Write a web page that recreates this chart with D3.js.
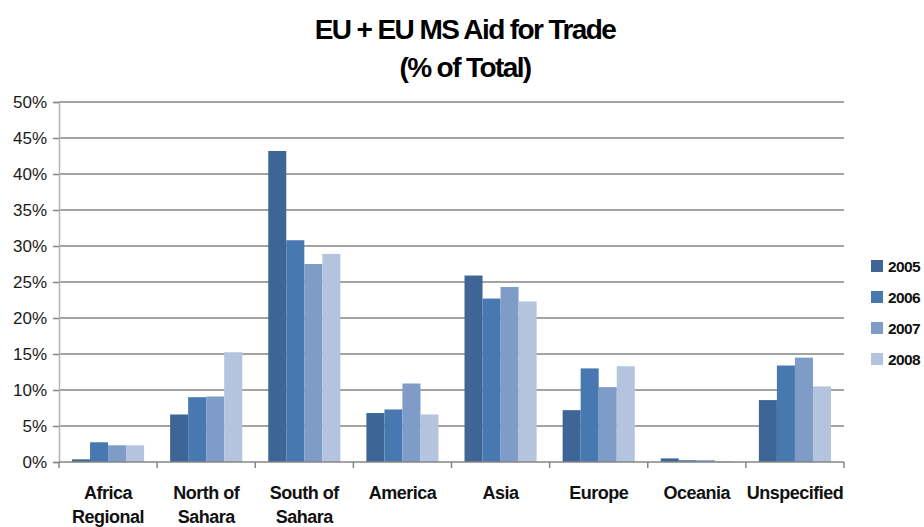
<!DOCTYPE html>
<html>
<head>
<meta charset="utf-8">
<script src="https://cdn.jsdelivr.net/npm/d3@7"></script>
<style>
body { margin: 0; background: #fff; }
text { font-family: "Liberation Sans", Arial, sans-serif; }
</style>
</head>
<body>
<script>
var width = 924, height = 527;

var categories = [["Africa", "Regional"], ["North of", "Sahara"], ["South of", "Sahara"], ["America"], ["Asia"], ["Europe"], ["Oceania"], ["Unspecified"]];
var years = ["2005", "2006", "2007", "2008"];
var v2005 = [0.37, 6.6, 43.2, 6.8, 25.9, 7.2, 0.5, 8.6];
var v2006 = [2.74, 9.0, 30.8, 7.3, 22.7, 13.0, 0.25, 13.4];
var v2007 = [2.32, 9.1, 27.5, 10.9, 24.3, 10.4, 0.25, 14.5];
var v2008 = [2.32, 15.25, 28.9, 6.6, 22.3, 13.3, 0.1, 10.5];
var yTicks = [0, 5, 10, 15, 20, 25, 30, 35, 40, 45, 50];
var colors = ["#3d6697", "#4878b0", "#7f9cc8", "#b5c4de"];

var series = [v2005, v2006, v2007, v2008];

var svg = d3.select("body")
.append("svg")
.attr("width", width)
.attr("height", height)
.attr("id", "svg");

var plotLeft = 59, plotRight = 844, plotTop = 102, plotBottom = 462;

var x = d3.scaleBand()
.domain(d3.range(categories.length))
.range([plotLeft, plotRight]);

var bandPad = 13;
var x1 = d3.scaleBand()
.domain(years)
.range([bandPad, x.bandwidth() - bandPad]);

var y = d3.scaleLinear()
.domain([0, 50])
.range([plotBottom, plotTop]);

// title
svg.append("text")
.attr("x", 465).attr("y", 39)
.attr("text-anchor", "middle")
.attr("font-size", 28).attr("font-weight", "bold")
.attr("letter-spacing", "-1.6")
.text("EU + EU MS Aid for Trade");
svg.append("text")
.attr("x", 465).attr("y", 77)
.attr("text-anchor", "middle")
.attr("font-size", 28).attr("font-weight", "bold")
.attr("letter-spacing", "-1.6")
.text("(% of Total)");

// gridlines
svg.append("g").selectAll("line")
.data(yTicks.slice(1))
.enter().append("line")
.attr("x1", plotLeft).attr("x2", plotRight)
.attr("y1", function(d){ return y(d); })
.attr("y2", function(d){ return y(d); })
.attr("stroke", "#858585")
.attr("stroke-width", 1.6);

// y axis
var yAxis = svg.append("g")
.attr("transform", "translate(" + plotLeft + ",0)")
.call(d3.axisLeft(y).tickValues(yTicks).tickSize(6).tickPadding(6)
    .tickFormat(function(d){ return d + "%"; }));
yAxis.select(".domain").attr("stroke", "#b4b4b4").attr("stroke-width", 1.5);
yAxis.selectAll(".tick line").attr("stroke", "#858585").attr("stroke-width", 1.5);
yAxis.selectAll("text")
.attr("font-size", 17).attr("fill", "#1a1a1a")
.attr("font-family", "Liberation Sans, Arial, sans-serif");

// bars
var groups = svg.append("g").selectAll("g")
.data(series)
.enter().append("g")
.attr("fill", function(d, i){ return colors[i]; });

groups.each(function(vals, si){
    d3.select(this).selectAll("rect")
    .data(vals)
    .enter().append("rect")
    .attr("x", function(d, ci){ return x(ci) + x1(years[si]); })
    .attr("y", function(d){ return y(d); })
    .attr("width", x1.bandwidth())
    .attr("height", function(d){ return y(0) - y(d); });
});

// x axis
svg.append("line")
.attr("x1", plotLeft).attr("x2", plotRight)
.attr("y1", plotBottom).attr("y2", plotBottom)
.attr("stroke", "#858585").attr("stroke-width", 1.5);
svg.append("g").selectAll("line")
.data(d3.range(categories.length + 1))
.enter().append("line")
.attr("x1", function(d){ return plotLeft + d * x.bandwidth(); })
.attr("x2", function(d){ return plotLeft + d * x.bandwidth(); })
.attr("y1", plotBottom).attr("y2", plotBottom + 6)
.attr("stroke", "#858585").attr("stroke-width", 1.5);

var labels = svg.append("g").selectAll("text")
.data(categories)
.enter().append("text")
.attr("text-anchor", "middle")
.attr("font-size", 18).attr("font-weight", "bold")
.attr("letter-spacing", "-0.5")
.attr("fill", "#111");
labels.each(function(lines, ci){
    var t = d3.select(this);
    lines.forEach(function(l, li){
        t.append("tspan")
        .attr("x", x(ci) + x.bandwidth() / 2)
        .attr("y", 499 + li * 24)
        .text(l);
    });
});

// legend
var legend = svg.append("g").selectAll("g")
.data(years)
.enter().append("g")
.attr("transform", function(d, i){ return "translate(871," + (260 + i * 31) + ")"; });
legend.append("rect")
.attr("width", 12).attr("height", 12)
.attr("fill", function(d, i){ return colors[i]; });
legend.append("text")
.attr("x", 17).attr("y", 11.5)
.attr("font-size", 15.5).attr("font-weight", "bold")
.attr("letter-spacing", "-0.6")
.attr("fill", "#111")
.text(function(d){ return d; });
</script>
</body>
</html>
